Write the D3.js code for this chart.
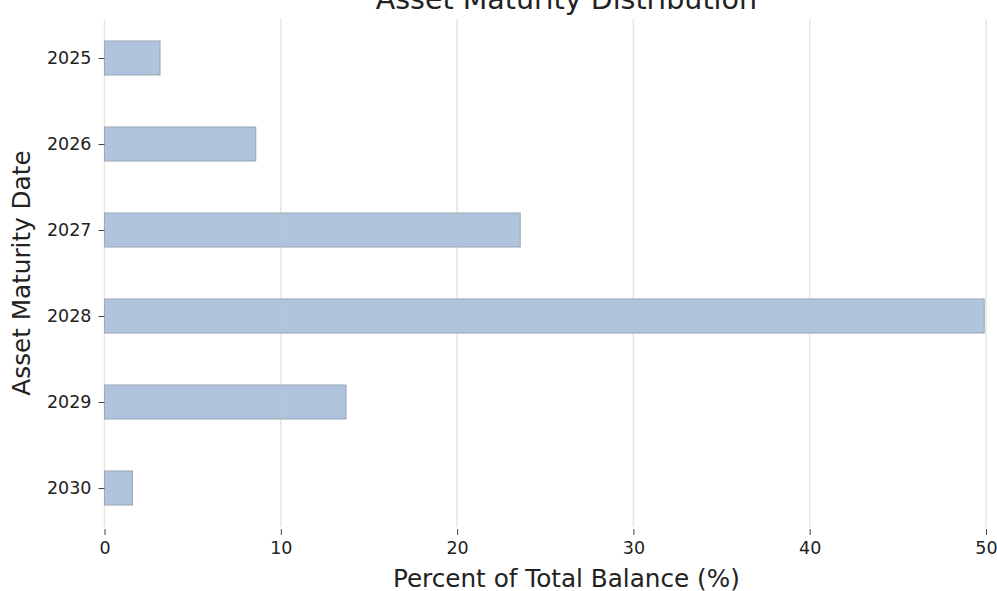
<!DOCTYPE html>
<html>
<head>
<meta charset="utf-8">
<script src="https://cdn.jsdelivr.net/npm/d3@7"></script>
<style>
  body { margin: 0; background: #fff; }
  svg { display: block; }
  text { font-family: "DejaVu Sans", sans-serif; }
</style>
</head>
<body>
<svg id="chart" width="997" height="591"></svg>
<script>
// --- data ---
const years    = ["2025", "2026", "2027", "2028", "2029", "2030"];
const percents = [3.15, 8.58, 23.58, 49.9, 13.7, 1.58];
const xTicks   = [0, 10, 20, 30, 40, 50];

const svg = d3.select("#chart");
// axes run past the right edge (5% margin beyond the longest bar), as in the reference
const plot = { left: 104.5, top: 19, bottom: 527 };
const fontFam = "DejaVu Sans, sans-serif";

const xMax = d3.max(percents) * 1.05;
const x = d3.scaleLinear().domain([0, 50]).range([plot.left, 986]);
plot.right = x(xMax);
const midX = (plot.left + plot.right) / 2;
const y = d3.scalePoint().domain(years).range([58, 488]);
const barH = 34;

// gridlines behind
svg.append("g")
  .selectAll("line")
  .data(xTicks)
  .join("line")
  .attr("x1", d => x(d)).attr("x2", d => x(d))
  .attr("y1", plot.top).attr("y2", plot.bottom)
  .attr("stroke", "#eeeeee")
  .attr("stroke-width", 1.5);

// bars
svg.append("g")
  .selectAll("rect")
  .data(years)
  .join("rect")
  .attr("x", x(0))
  .attr("y", d => y(d) - barH / 2)
  .attr("width", (d, i) => x(percents[i]) - x(0))
  .attr("height", barH)
  .attr("fill", "#b0c4de")
  .attr("stroke", "#97a3b3")
  .attr("stroke-width", 1);

// faint gridlines showing through bars
svg.append("g")
  .selectAll("line")
  .data(xTicks)
  .join("line")
  .attr("x1", d => x(d)).attr("x2", d => x(d))
  .attr("y1", plot.top).attr("y2", plot.bottom)
  .attr("stroke", "#c8c8c8")
  .attr("stroke-opacity", 0.2)
  .attr("stroke-width", 1.5);

// x axis
const xAxis = svg.append("g")
  .attr("transform", `translate(0,${plot.bottom + 2})`)
  .call(d3.axisBottom(x).tickValues(xTicks).tickSize(6).tickPadding(7).tickFormat(d3.format("d")));
xAxis.attr("font-family", fontFam);
xAxis.select(".domain").remove();
xAxis.selectAll("line").attr("stroke", "#444").attr("stroke-width", 1);
xAxis.selectAll("text").attr("fill", "#222").style("font-size", "17.5px");

// y axis
const yAxis = svg.append("g")
  .attr("transform", `translate(${plot.left},0)`)
  .call(d3.axisLeft(y).tickSize(6).tickPadding(7));
yAxis.attr("font-family", fontFam);
yAxis.select(".domain").remove();
yAxis.selectAll("line").attr("stroke", "#444").attr("stroke-width", 1);
yAxis.selectAll("text").attr("fill", "#222").style("font-size", "17.5px");

// labels
svg.append("text")
  .attr("x", midX)
  .attr("y", 587)
  .attr("text-anchor", "middle")
  .attr("fill", "#222")
  .style("font-size", "24.7px")
  .text("Percent of Total Balance (%)");

svg.append("text")
  .attr("transform", `translate(30,${(plot.top + plot.bottom) / 2}) rotate(-90)`)
  .attr("text-anchor", "middle")
  .attr("fill", "#222")
  .style("font-size", "24.7px")
  .text("Asset Maturity Date");

svg.append("text")
  .attr("x", midX)
  .attr("y", 9)
  .attr("text-anchor", "middle")
  .attr("fill", "#222")
  .style("font-size", "28.5px")
  .text("Asset Maturity Distribution");
</script>
</body>
</html>
